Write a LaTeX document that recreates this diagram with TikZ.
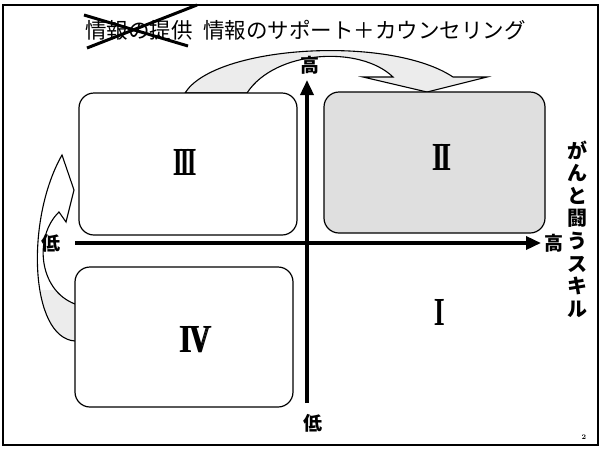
\documentclass[tikz,border=0pt]{standalone}
\usepackage{fontspec}
\newfontfamily\jp{Noto Sans CJK JP}
\newcommand\fatnum[1]{\rlap{#1}\kern1pt\rlap{#1}\kern1pt #1}
\usetikzlibrary{arrows.meta}
\begin{document}
\begin{tikzpicture}[x=1pt,y=-1pt,
  quad/.style={draw,line width=1.2pt,rounded corners=15pt},
  axisline/.style={line width=3.5pt,-{Triangle[length=15pt,width=13pt]}},
  roman/.style={font=\fontsize{38}{38}\selectfont\bfseries,inner sep=0pt},
  jplabel/.style={font=\jp\bfseries\fontsize{19}{19}\selectfont,inner sep=0pt},
  title/.style={font=\jp\fontsize{21.5}{21.5}\selectfont,inner sep=0pt,anchor=west},
  blockarrow/.style={draw,line width=1.1pt,line join=miter}]
\useasboundingbox (0,0) rectangle (603,448);
\draw[line width=1.5pt] (3,5) rectangle (598,445);

% title
\node[title] (old) at (85,30) {情報の提供};
\node[title] (new) at (203,30) {情報のサポート＋カウンセリング};
\coordinate (xa1) at (84,15);
\coordinate (xb1) at (188,46);
\coordinate (xa2) at (87,48);
\coordinate (xb2) at (197,5);
\draw[line width=3pt] (xa1) -- (xb1);
\draw[line width=3pt] (xa2) -- (xb2);

% top curved block arrow
\draw[blockarrow, fill=gray!15] (185,93) .. controls (215,45) and (390,35) .. (453,77)
  -- (487,77) -- (427,92) -- (363,77) -- (393,77)
  .. controls (360,45) and (275,50) .. (247,93) -- cycle;

% left curved block arrow
\begin{scope}
\clip (75,341) .. controls (30,338) and (25,220) .. (62,155) -- (74,190) -- (66,222) -- (59,212)
  .. controls (34,236) and (38,290) .. (75,304) -- cycle;
\fill[gray!15] (20,290) rectangle (80,350);
\end{scope}
\draw[blockarrow] (75,341) .. controls (30,338) and (25,220) .. (62,155) -- (74,190) -- (66,222) -- (59,212)
  .. controls (34,236) and (38,290) .. (75,304);

% quadrant boxes
\draw[quad, fill=white] (79,93) rectangle (297,235);
\draw[quad, fill=gray!25] (324,92) rectangle (545,233);
\draw[quad, fill=white] (75,267) rectangle (293,407);

% axes
\coordinate (hs) at (75,243);
\coordinate (he) at (541,243);
\coordinate (vs) at (307,403);
\coordinate (ve) at (307,80);
\draw[axisline] (hs) -- (he);
\draw[axisline] (vs) -- (ve);

% axis labels
\node[jplabel] (lowL) at (51,243) {低};
\node[jplabel] (highT) at (310,65) {高};
\node[jplabel] (highR) at (554,243) {高};
\node[jplabel] (lowB) at (313,423) {低};
\node[font=\jp\bfseries\fontsize{20}{22.6}\selectfont, align=center, inner sep=0pt] (skill) at (577,229)
  {が\\ん\\と\\闘\\う\\ス\\キ\\ル};

% quadrant numerals
\node[roman] (q3) at (185,162) {\scalebox{0.52}[1]{\fatnum{I\kern-3pt I\kern-3pt I}}};
\node[roman] (q2) at (442,157) {\scalebox{0.62}[1]{\fatnum{I\kern-3pt I}}};
\node[roman] (q1) at (440,312) {\scalebox{0.58}[1]{\fatnum{I}}};
\node[roman] (q4) at (196,340) {\scalebox{0.68}[1]{\fatnum{I\kern-3pt V}}};

\node[font=\bfseries\fontsize{7}{7}\selectfont, inner sep=0pt] (pg) at (584,437) {2};
\end{tikzpicture}
\end{document}
